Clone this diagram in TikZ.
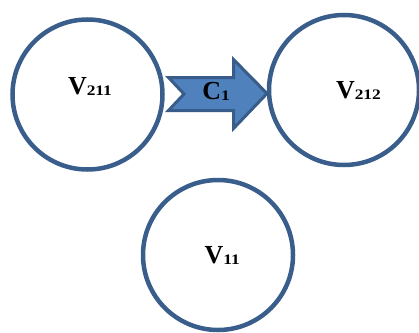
\documentclass[tikz,border=0pt]{standalone}
\usepackage{fontspec}
\setmainfont{Liberation Serif}
\definecolor{ringc}{HTML}{3A5E8C}
\definecolor{arrfill}{HTML}{4F81BD}
\definecolor{arrline}{HTML}{385D8A}
\newcommand{\lbl}[2]{{\bfseries\fontsize{26}{26}\selectfont #1}{\bfseries\fontsize{14.5}{14.5}\selectfont\raisebox{-1pt}{\scalebox{1.2}[1]{#2}}}}
\begin{document}
\begin{tikzpicture}[x=1pt,y=-1pt,
  ring/.style={circle,draw=ringc,line width=4.5pt,fill=white,minimum size=150pt,inner sep=0pt},
  lbltext/.style={anchor=base west,inner sep=0pt,outer sep=0pt}]
\useasboundingbox (0,0) rectangle (419,332);
\begin{scope}
\clip (0,0) rectangle (419,332);
\node[ring] (v211) at (87.5,94.5) {};
\node[ring] (v212) at (344,90) {};
\node[ring] (v11) at (218,255) {};
\end{scope}
\draw[fill=arrfill,draw=arrline,line width=3pt,line join=miter]
  (168.5,77.5) -- (233.5,77.5) -- (233.5,59.5) -- (267,93.5) -- (233.5,128.5) -- (233.5,110.5) -- (168.5,110.5) -- (184,94) -- cycle;
\node[lbltext] (t211) at (68,94) {\lbl{V}{211}};
\node[lbltext] (t212) at (336,98) {\lbl{V}{212}};
\node[lbltext] (t11) at (204.5,263.3) {\lbl{V}{11}};
\node[lbltext] (tc1) at (202.3,99) {\lbl{C}{1}};
\end{tikzpicture}
\end{document}
